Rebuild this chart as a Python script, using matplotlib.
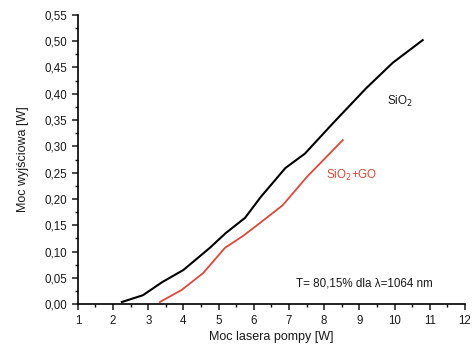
import numpy as np
import matplotlib.pyplot as plt
from matplotlib.ticker import MultipleLocator, FuncFormatter

plt.rcParams['font.family'] = ['Liberation Sans', 'DejaVu Sans']

# SiO2 curve
x_sio2 = [2.25, 2.85, 3.4, 4.0, 4.75, 5.2, 5.75, 6.2, 6.9, 7.45, 8.25, 9.2, 9.95, 10.8]
y_sio2 = [0.004, 0.017, 0.042, 0.065, 0.107, 0.135, 0.164, 0.204, 0.259, 0.286, 0.344, 0.411, 0.459, 0.502]
# SiO2+GO curve
x_go = [3.33, 3.95, 4.56, 5.18, 5.7, 6.17, 6.82, 7.51, 8.53]
y_go = [0.004, 0.027, 0.059, 0.107, 0.13, 0.154, 0.188, 0.242, 0.312]

txt = '#1a1a1a'
red = '#d9493c'

fig = plt.figure(figsize=(4.72, 3.46), dpi=100)
ax = fig.add_axes([0.165, 0.121, 0.82, 0.836])

ax.plot(x_sio2, y_sio2, color='black', lw=1.5)
ax.plot(x_go, y_go, color=red, lw=1.3)

ax.set_xlim(1, 12)
ax.set_ylim(0, 0.55)
ax.xaxis.set_major_locator(MultipleLocator(1))
ax.xaxis.set_minor_locator(MultipleLocator(0.5))
ax.yaxis.set_major_locator(MultipleLocator(0.05))
ax.yaxis.set_minor_locator(MultipleLocator(0.025))
ax.yaxis.set_major_formatter(FuncFormatter(lambda v, p: f'{v:.2f}'.replace('.', ',')))

for s in ['top', 'right']:
    ax.spines[s].set_visible(False)
ax.spines['left'].set_linewidth(1.2)
ax.spines['bottom'].set_linewidth(1.2)
ax.tick_params(which='major', length=4.5, width=1.1, labelsize=8.3, colors=txt, pad=3)
ax.tick_params(which='minor', length=2.5, width=1)

ax.text(10.15, 0.385, 'SiO$_2$', fontsize=8.4, ha='center', va='center', color=txt)
ax.text(8.05, 0.245, 'SiO$_2$+GO', fontsize=8.4, ha='left', va='center', color=red)
ax.text(7.2, 0.04, 'T= 80,15% dla λ=1064 nm', fontsize=8.4, ha='left', va='center', color=txt)

ax.set_xlabel('Moc lasera pompy [W]', fontsize=9, color=txt, labelpad=3)
ax.set_ylabel('Moc wyjściowa [W]', fontsize=9, color=txt, labelpad=11)

fig.savefig('out.png', dpi=100)
